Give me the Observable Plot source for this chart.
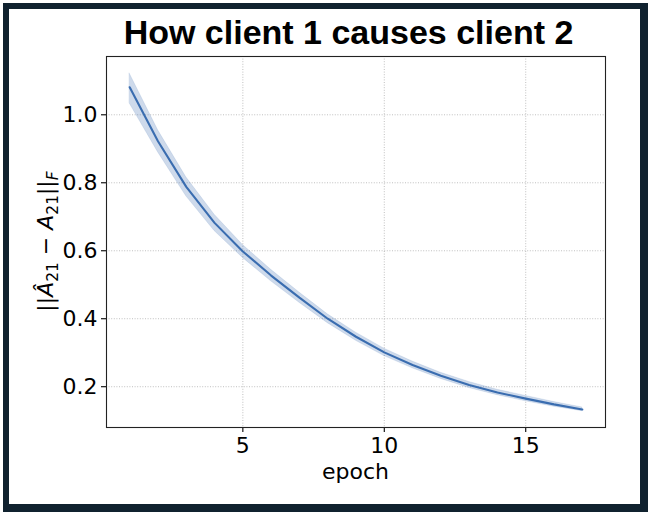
<!DOCTYPE html>
<html><head><meta charset="utf-8">
<script src="https://cdn.jsdelivr.net/npm/d3@7"></script>
<script src="https://cdn.jsdelivr.net/npm/@observablehq/plot@0.6"></script>
<style>
html,body{margin:0;padding:0;background:#fff;}
#wrap{position:relative;width:648px;height:512px;overflow:hidden;background:#fff;}
#chart{position:absolute;left:0;top:0;}
#border{position:absolute;left:3px;top:3px;width:645px;height:509px;box-sizing:border-box;
  border-style:solid;border-color:#10222f;border-width:6px 8px 8px 6px;pointer-events:none;}
</style>
</head><body>
<div id="wrap"><div id="chart"></div><div id="border"></div></div>
<script>
const titleText = "How client 1 causes client 2";
const xLabelText = "epoch";
const epochs = [1,2,3,4,5,6,7,8,9,10,11,12,13,14,15,16,17];
const meanErr  = [1.081,0.922,0.788,0.682,0.598,0.527,0.462,0.400,0.347,0.301,0.264,0.232,0.205,0.183,0.165,0.148,0.133];
const upperErr = [1.121,0.955,0.816,0.706,0.617,0.544,0.477,0.413,0.359,0.312,0.274,0.241,0.214,0.191,0.173,0.155,0.139];
const lowerErr = [1.033,0.890,0.760,0.658,0.579,0.510,0.447,0.387,0.335,0.290,0.254,0.223,0.196,0.175,0.157,0.141,0.128];
const xTicks = [5,10,15];
const yTicks = [0.2,0.4,0.6,0.8,1.0];

const data = epochs.map((e,i)=>({epoch:e, mean:meanErr[i], lower:lowerErr[i], upper:upperErr[i]}));

const W=648,H=512, mL=106, mR=43, mT=56, mB=85;
const tickFont = "DejaVu Sans, Verdana, sans-serif";
const blue = "#3a6db0";

const svg = Plot.plot({
  width:W, height:H,
  marginLeft:mL, marginRight:mR, marginTop:mT, marginBottom:mB,
  style:{fontFamily:tickFont, fontSize:"22px", color:"#000", background:"transparent"},
  x:{domain:[0.18,17.82], ticks:xTicks},
  y:{domain:[0.080,1.1715], ticks:yTicks, tickFormat:d3.format(".1f")},
  marks:[
    Plot.gridX(xTicks,{stroke:"#b0b0b0", strokeOpacity:1, strokeWidth:0.8, strokeDasharray:"1,1.6"}),
    Plot.gridY(yTicks,{stroke:"#b0b0b0", strokeOpacity:1, strokeWidth:0.8, strokeDasharray:"1,1.6"}),
    Plot.areaY(data,{x:"epoch", y1:"lower", y2:"upper", fill:blue, fillOpacity:0.25, stroke:blue, strokeOpacity:0.12, strokeWidth:1}),
    Plot.lineY(data,{x:"epoch", y:"mean", stroke:blue, strokeWidth:2.1}),
    Plot.axisX(xTicks,{tickSize:5, tickPadding:5, fontSize:22, label:null, strokeWidth:1.1}),
    Plot.axisY(yTicks,{tickSize:5, tickPadding:4, fontSize:22, label:null, strokeWidth:1.1, tickFormat:d3.format(".1f")}),
    Plot.frame({stroke:"#222", strokeWidth:1.1})
  ]
});
document.getElementById("chart").appendChild(svg);

const s = d3.select(svg);
s.append("text")
  .attr("x", 348.5).attr("y", 44)
  .attr("text-anchor","middle")
  .attr("font-family","Liberation Sans, Arial, sans-serif")
  .attr("font-weight","bold")
  .attr("font-size", 34)
  .attr("fill","#000")
  .text(titleText);

s.append("text")
  .attr("x", (mL + W - mR)/2).attr("y", 479)
  .attr("text-anchor","middle")
  .attr("font-family", tickFont)
  .attr("font-size", 22)
  .attr("fill","#000")
  .text(xLabelText);

const yl = s.append("text")
  .attr("transform", `translate(53,${(mT + H - mB)/2}) rotate(-90)`)
  .attr("text-anchor","middle")
  .attr("font-family", tickFont)
  .attr("font-size", 22)
  .attr("fill","#000");
const parts = [
  {t:"||", it:false, sub:false},
  {t:"Â", it:true, sub:false},
  {t:"21", it:false, sub:true},
  {t:" − ", it:false, sub:false},
  {t:"A", it:true, sub:false},
  {t:"21", it:false, sub:true},
  {t:"||", it:false, sub:false},
  {t:"F", it:true, sub:true}
];
let prevSub = false;
parts.forEach(p=>{
  const ts = yl.append("tspan").text(p.t);
  if (p.it) ts.attr("font-style","italic");
  if (p.sub) ts.attr("font-size", 15.4);
  const dy = (p.sub && !prevSub) ? 4.5 : (!p.sub && prevSub) ? -4.5 : 0;
  if (dy) ts.attr("dy", dy);
  prevSub = p.sub;
});
</script>
</body></html>
